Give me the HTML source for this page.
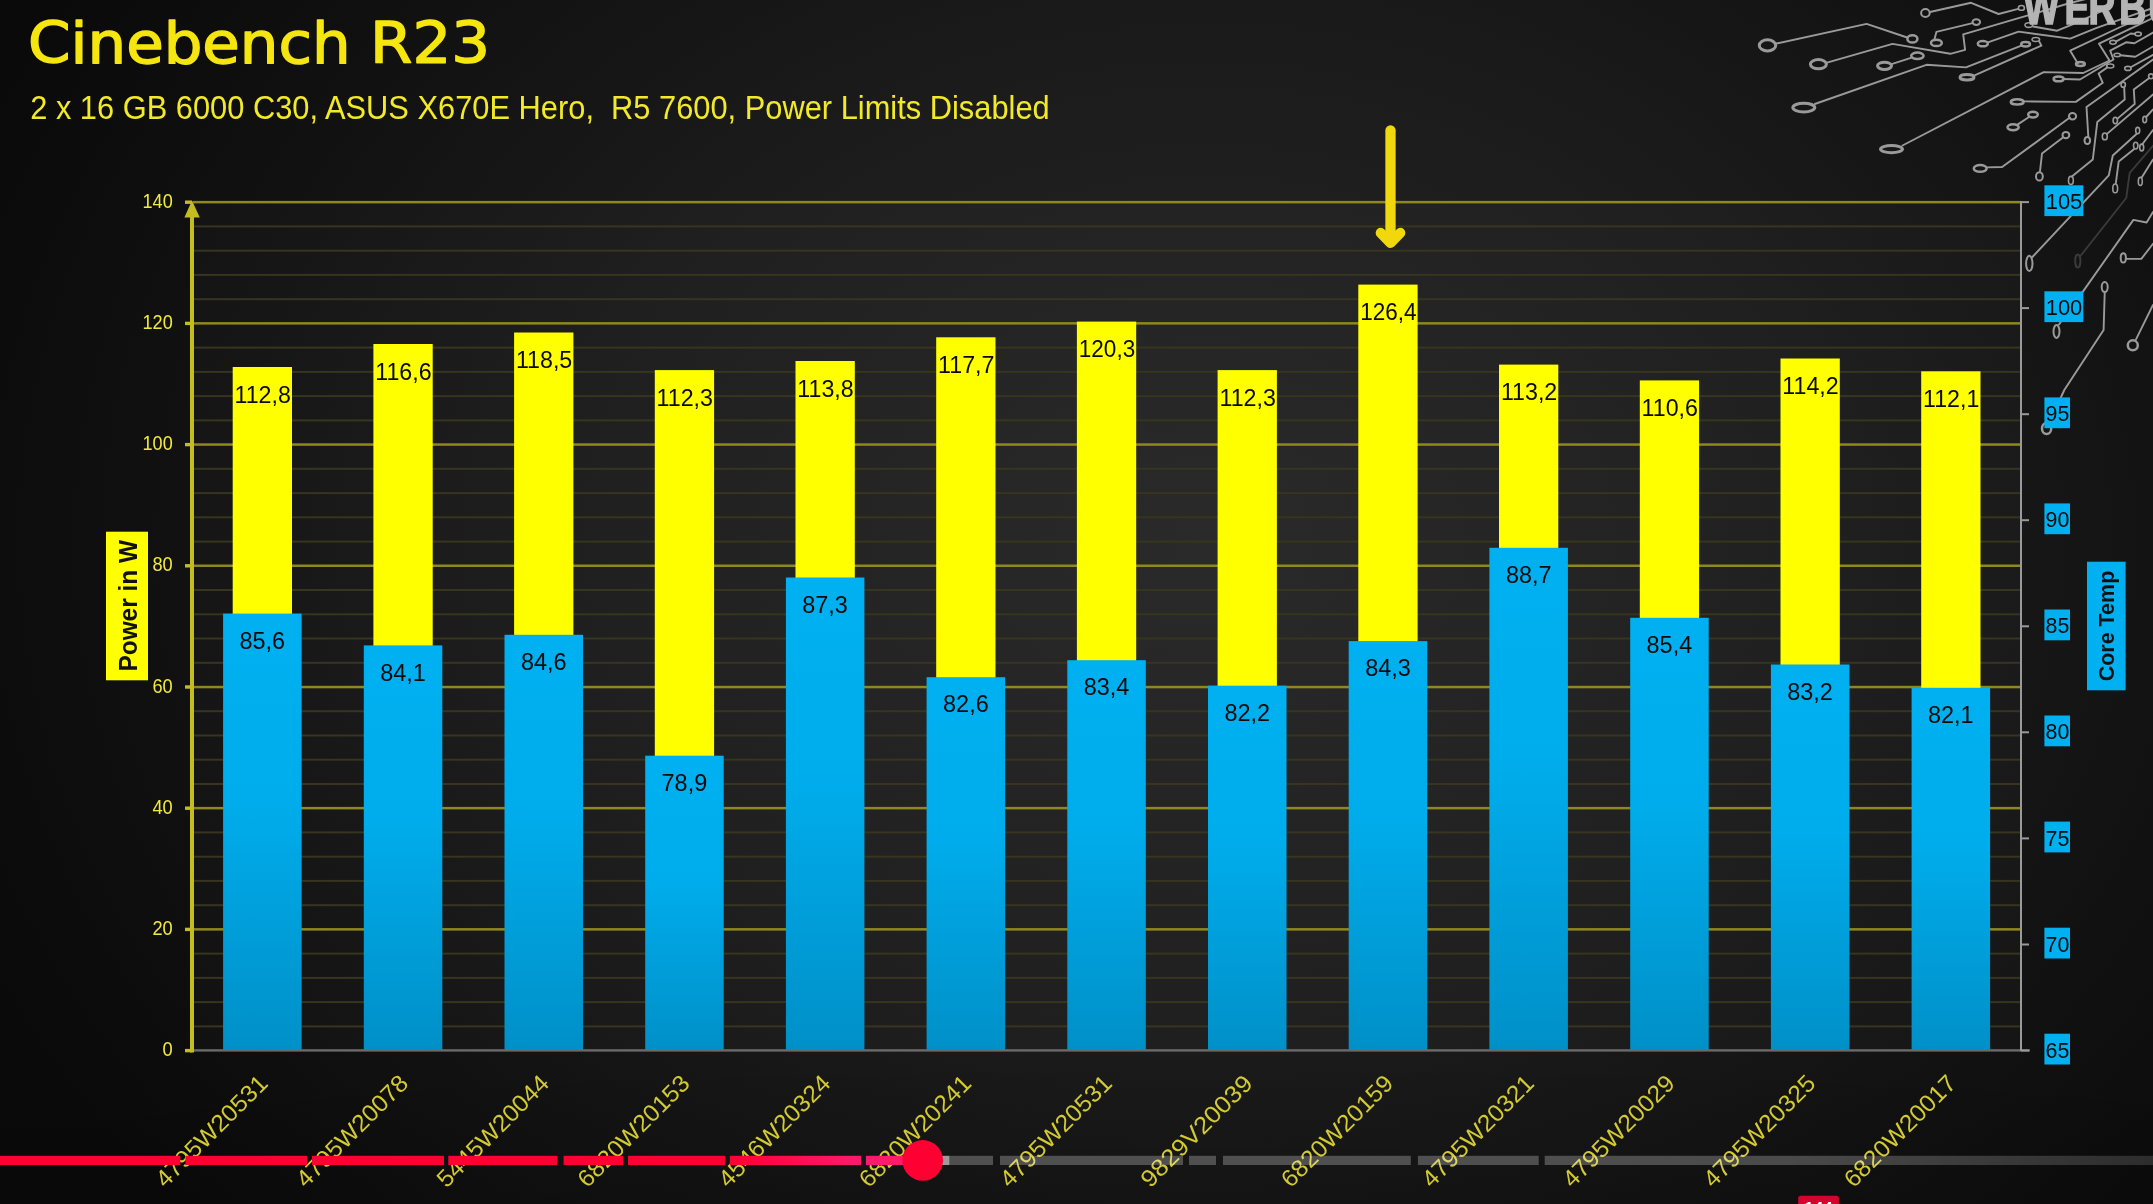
<!DOCTYPE html>
<html lang="de"><head><meta charset="utf-8"><title>Cinebench R23</title>
<style>
html,body{margin:0;padding:0;background:#0b0b0b;overflow:hidden}
body{width:2153px;height:1204px;position:relative;font-family:"Liberation Sans",sans-serif}
svg{display:block;position:absolute;left:0;top:0;will-change:transform}
text{font-family:"Liberation Sans",sans-serif}
.t{font-family:"DejaVu Sans","Liberation Sans",sans-serif}
</style></head><body>
<svg width="2153" height="1204" viewBox="0 0 2153 1204">
<defs>
<radialGradient id="bg" cx="0.56" cy="0.45" r="0.62" gradientTransform="translate(0.56 0.45) scale(1 1.4) translate(-0.56 -0.45)">
<stop offset="0" stop-color="#262626"/><stop offset="0.45" stop-color="#1c1c1c"/><stop offset="0.8" stop-color="#101010"/><stop offset="1" stop-color="#0a0a0a"/></radialGradient>
<linearGradient id="bl" x1="0" y1="0" x2="0" y2="1"><stop offset="0" stop-color="#00b0f0"/><stop offset="0.42" stop-color="#00adec"/><stop offset="1" stop-color="#0090c8"/></linearGradient>
<linearGradient id="bot" x1="0" y1="0" x2="0" y2="1"><stop offset="0" stop-color="#000" stop-opacity="0"/><stop offset="1" stop-color="#000" stop-opacity="0.1"/></linearGradient>
<linearGradient id="pk" x1="0" y1="0" x2="1" y2="0"><stop offset="0" stop-color="#ff0033"/><stop offset="1" stop-color="#ff1a6e"/></linearGradient>
<linearGradient id="gr" x1="0" y1="0" x2="1" y2="0"><stop offset="0" stop-color="#fff" stop-opacity="0.25"/><stop offset="0.4" stop-color="#fff" stop-opacity="0.24"/><stop offset="1" stop-color="#fff" stop-opacity="0.14"/></linearGradient>
</defs>
<rect width="2153" height="1204" fill="url(#bg)"/>
<g id="circuit" fill="none" stroke="#9a9a9a" stroke-width="1.9" stroke-linejoin="round" stroke-linecap="round">
<path d="M1930.0 12.0 L1971.1 2.8 L1998.6 14.0 L2018.3 8.8"/>
<ellipse cx="1925.4" cy="13.0" rx="4.3" ry="4.0" stroke-width="2.0"/>
<ellipse cx="2021.4" cy="7.9" rx="3.0" ry="2.4" stroke-width="1.6"/>
<path d="M1776.5 43.5 L1866.6 23.9 L1907.2 37.5"/>
<ellipse cx="1767.5" cy="45.4" rx="8.2" ry="5.6" stroke-width="3.0"/>
<ellipse cx="1912.4" cy="38.9" rx="5.0" ry="3.6" stroke-width="2.5"/>
<path d="M1827.0 62.6 L1892.5 43.9 L1950.3 53.8 L1965.1 49.8 L1963.2 34.4 L2023.7 16.7 L2070.0 3.0 L2090.0 -2.0"/>
<ellipse cx="1818.4" cy="64.2" rx="8.0" ry="4.6" stroke-width="3.0"/>
<path d="M1891.5 64.2 L1911.0 57.8"/>
<ellipse cx="1884.5" cy="65.8" rx="7.0" ry="3.6" stroke-width="3.0"/>
<ellipse cx="1917.4" cy="55.8" rx="6.2" ry="3.2" stroke-width="2.5"/>
<path d="M1814.8 104.0 L1926.4 64.8 L1966.0 67.4 L2021.4 45.6"/>
<ellipse cx="1803.8" cy="107.6" rx="11.0" ry="4.4" stroke-width="3.0"/>
<ellipse cx="2025.6" cy="44.2" rx="4.4" ry="2.2" stroke-width="2.5"/>
<path d="M1934.4 39.6 L1936.4 31.9 L1972.5 23.1"/>
<ellipse cx="1936.4" cy="42.9" rx="5.4" ry="3.2" stroke-width="2.5"/>
<ellipse cx="1976.3" cy="22.1" rx="3.8" ry="2.8" stroke-width="2.0"/>
<path d="M1987.9 42.3 L2018.6 31.6 L2070.2 38.6 L2096.7 27.9 L2153.0 8.0"/>
<ellipse cx="1982.8" cy="43.7" rx="5.0" ry="2.6" stroke-width="2.5"/>
<path d="M1974.0 75.6 L2041.4 45.6 L2039.3 41.6"/>
<ellipse cx="1967.0" cy="77.2" rx="7.0" ry="2.8" stroke-width="3.0"/>
<ellipse cx="2035.8" cy="39.5" rx="3.8" ry="2.0" stroke-width="1.6"/>
<path d="M2033.0 26.5 L2057.2 30.7 L2072.0 24.6 L2100.0 12.0"/>
<ellipse cx="2028.8" cy="25.1" rx="3.8" ry="2.3" stroke-width="1.6"/>
<path d="M1902.5 145.5 L2043.7 72.1 L2083.2 73.0 L2109.5 60.5 L2099.0 43.7 L2143.7 22.3 L2153.0 18.0"/>
<ellipse cx="1891.5" cy="149.1" rx="11.0" ry="3.6" stroke-width="3.0"/>
<path d="M2077.7 63.3 L2070.2 50.7 L2120.4 27.0 L2153.0 13.0"/>
<ellipse cx="2080.4" cy="64.0" rx="4.4" ry="2.0" stroke-width="2.5"/>
<path d="M2063.5 79.0 L2080.0 79.5 L2113.5 59.5 L2110.2 50.7 L2126.0 42.3 L2134.4 43.3 L2153.0 32.6"/>
<ellipse cx="2058.6" cy="78.9" rx="5.0" ry="2.4" stroke-width="2.5"/>
<path d="M2116.3 41.4 L2130.7 33.5 L2135.0 34.0"/>
<ellipse cx="2113.0" cy="42.3" rx="3.2" ry="1.9" stroke-width="1.6"/>
<ellipse cx="2138.1" cy="34.0" rx="3.2" ry="1.9" stroke-width="1.6"/>
<path d="M2120.4 55.3 L2135.3 56.7 L2153.0 46.5"/>
<ellipse cx="2117.2" cy="54.9" rx="3.2" ry="1.7" stroke-width="1.6"/>
<path d="M2023.7 101.4 L2075.8 101.9 L2102.8 82.8 L2098.6 73.5 L2107.4 67.4"/>
<ellipse cx="2017.2" cy="101.9" rx="6.4" ry="2.6" stroke-width="2.5"/>
<ellipse cx="2110.2" cy="66.0" rx="3.6" ry="2.0" stroke-width="1.6"/>
<path d="M2017.5 124.6 L2029.0 117.0"/>
<ellipse cx="2013.1" cy="127.2" rx="5.6" ry="3.0" stroke-width="2.5"/>
<ellipse cx="2033.0" cy="114.6" rx="4.8" ry="2.8" stroke-width="2.5"/>
<path d="M1987.2 167.4 L2002.1 167.0 L2069.9 117.6"/>
<ellipse cx="1980.2" cy="168.4" rx="6.4" ry="3.4" stroke-width="2.5"/>
<ellipse cx="2072.5" cy="116.2" rx="3.6" ry="3.2" stroke-width="2.0"/>
<path d="M2040.0 171.4 L2042.0 153.5 L2062.9 137.5"/>
<ellipse cx="2039.4" cy="176.4" rx="3.4" ry="4.2" stroke-width="2.0"/>
<ellipse cx="2065.9" cy="135.1" rx="3.4" ry="3.2" stroke-width="2.0"/>
<path d="M2071.9 176.4 L2092.8 159.5 L2097.3 121.9 L2124.7 99.5 L2124.2 87.4"/>
<ellipse cx="2070.9" cy="180.4" rx="2.4" ry="4.0" stroke-width="1.6"/>
<ellipse cx="2123.2" cy="84.7" rx="2.2" ry="2.6" stroke-width="1.6"/>
<path d="M2088.3 136.5 L2086.5 107.0 L2153.0 59.5"/>
<ellipse cx="2087.3" cy="140.5" rx="2.8" ry="3.6" stroke-width="2.0"/>
<path d="M2107.0 133.9 L2153.0 94.5"/>
<ellipse cx="2104.8" cy="136.4" rx="2.5" ry="3.4" stroke-width="1.6"/>
<path d="M2117.5 118.6 L2134.7 104.0 L2133.8 89.5 L2149.3 78.1"/>
<ellipse cx="2115.3" cy="120.6" rx="2.2" ry="3.2" stroke-width="1.6"/>
<ellipse cx="2151.0" cy="76.3" rx="2.4" ry="2.4" stroke-width="1.6"/>
<path d="M2131.1 67.0 L2153.0 54.9"/>
<ellipse cx="2127.9" cy="68.4" rx="3.2" ry="2.0" stroke-width="1.6"/>
<path d="M2115.8 183.4 L2118.7 161.5 L2134.2 149.0"/>
<ellipse cx="2115.2" cy="188.4" rx="2.4" ry="4.4" stroke-width="1.6"/>
<ellipse cx="2135.7" cy="145.6" rx="2.2" ry="3.4" stroke-width="1.6"/>
<path d="M2141.7 177.4 L2153.0 159.5"/>
<ellipse cx="2140.3" cy="181.4" rx="2.0" ry="4.0" stroke-width="1.6"/>
<path d="M2136.5 134.0 L2112.8 155.5 L2108.8 175.4 L2032.4 257.0"/>
<ellipse cx="2137.7" cy="130.6" rx="2.0" ry="3.2" stroke-width="1.6"/>
<ellipse cx="2029.3" cy="263.4" rx="3.2" ry="7.6" stroke-width="2.0"/>
<path d="M2146.2 117.0 L2153.0 109.4"/>
<ellipse cx="2144.7" cy="119.6" rx="1.9" ry="3.2" stroke-width="1.6"/>
<path d="M2142.5 144.0 L2153.0 130.0"/>
<ellipse cx="2141.7" cy="147.5" rx="2.0" ry="3.4" stroke-width="1.6"/>
<path d="M2153.0 145.8 L2129.7 172.8 L2126.2 198.0 L2080.4 256.0" stroke="#3a3a3a"/>
<ellipse cx="2077.8" cy="261.0" rx="2.6" ry="6.6" stroke-width="2.0" stroke="#3a3a3a"/>
<path d="M2153.0 212.0 L2146.6 222.5 L2133.4 219.9 L2082.9 291.6 L2059.0 324.5"/>
<ellipse cx="2056.5" cy="331.5" rx="3.0" ry="6.4" stroke-width="2.0"/>
<path d="M2126.7 258.9 L2141.3 258.9 L2153.0 243.8"/>
<ellipse cx="2123.3" cy="257.9" rx="2.6" ry="4.6" stroke-width="2.0"/>
<path d="M2104.7 293.0 L2103.6 330.1 L2064.3 390.0 L2050.5 420.0"/>
<ellipse cx="2104.7" cy="287.1" rx="3.0" ry="5.0" stroke-width="2.0"/>
<ellipse cx="2046.6" cy="428.5" rx="4.6" ry="5.6" stroke-width="2.5"/>
<path d="M2136.0 339.4 L2153.0 304.9"/>
<ellipse cx="2132.8" cy="345.3" rx="5.0" ry="5.0" stroke-width="2.5"/>
</g>
<rect x="0" y="1040" width="2153" height="164" fill="url(#bot)"/>
<rect x="192" y="202" width="1829" height="849" fill="#fff" fill-opacity="0.018"/>
<g id="grid">
<rect x="193" y="1025.4" width="1828" height="2" fill="#37351f"/>
<rect x="193" y="1001.1" width="1828" height="2" fill="#37351f"/>
<rect x="193" y="976.9" width="1828" height="2" fill="#37351f"/>
<rect x="193" y="952.6" width="1828" height="2" fill="#37351f"/>
<rect x="193" y="928.1" width="1828" height="2.5" fill="#8f881e"/>
<rect x="193" y="904.2" width="1828" height="2" fill="#37351f"/>
<rect x="193" y="879.9" width="1828" height="2" fill="#37351f"/>
<rect x="193" y="855.7" width="1828" height="2" fill="#37351f"/>
<rect x="193" y="831.4" width="1828" height="2" fill="#37351f"/>
<rect x="193" y="806.9" width="1828" height="2.5" fill="#8f881e"/>
<rect x="193" y="783.0" width="1828" height="2" fill="#37351f"/>
<rect x="193" y="758.7" width="1828" height="2" fill="#37351f"/>
<rect x="193" y="734.5" width="1828" height="2" fill="#37351f"/>
<rect x="193" y="710.2" width="1828" height="2" fill="#37351f"/>
<rect x="193" y="685.8" width="1828" height="2.5" fill="#8f881e"/>
<rect x="193" y="661.8" width="1828" height="2" fill="#37351f"/>
<rect x="193" y="637.5" width="1828" height="2" fill="#37351f"/>
<rect x="193" y="613.3" width="1828" height="2" fill="#37351f"/>
<rect x="193" y="589.0" width="1828" height="2" fill="#37351f"/>
<rect x="193" y="564.5" width="1828" height="2.5" fill="#8f881e"/>
<rect x="193" y="540.6" width="1828" height="2" fill="#37351f"/>
<rect x="193" y="516.3" width="1828" height="2" fill="#37351f"/>
<rect x="193" y="492.1" width="1828" height="2" fill="#37351f"/>
<rect x="193" y="467.8" width="1828" height="2" fill="#37351f"/>
<rect x="193" y="443.3" width="1828" height="2.5" fill="#8f881e"/>
<rect x="193" y="419.4" width="1828" height="2" fill="#37351f"/>
<rect x="193" y="395.1" width="1828" height="2" fill="#37351f"/>
<rect x="193" y="370.9" width="1828" height="2" fill="#37351f"/>
<rect x="193" y="346.6" width="1828" height="2" fill="#37351f"/>
<rect x="193" y="322.1" width="1828" height="2.5" fill="#8f881e"/>
<rect x="193" y="298.2" width="1828" height="2" fill="#37351f"/>
<rect x="193" y="273.9" width="1828" height="2" fill="#37351f"/>
<rect x="193" y="249.7" width="1828" height="2" fill="#37351f"/>
<rect x="193" y="225.4" width="1828" height="2" fill="#37351f"/>
<rect x="193" y="200.9" width="1828" height="2.5" fill="#8f881e"/>
</g>
<g id="bars">
<rect x="232.7" y="367.0" width="59.3" height="683.6" fill="#ffff00"/>
<rect x="223.1" y="613.6" width="78.5" height="437.0" fill="url(#bl)"/>
<rect x="373.4" y="344.0" width="59.3" height="706.6" fill="#ffff00"/>
<rect x="363.8" y="645.4" width="78.5" height="405.2" fill="url(#bl)"/>
<rect x="514.1" y="332.5" width="59.3" height="718.1" fill="#ffff00"/>
<rect x="504.5" y="634.8" width="78.5" height="415.8" fill="url(#bl)"/>
<rect x="654.8" y="370.1" width="59.3" height="680.5" fill="#ffff00"/>
<rect x="645.2" y="755.7" width="78.5" height="294.9" fill="url(#bl)"/>
<rect x="795.5" y="361.0" width="59.3" height="689.6" fill="#ffff00"/>
<rect x="785.9" y="577.5" width="78.5" height="473.1" fill="url(#bl)"/>
<rect x="936.2" y="337.3" width="59.3" height="713.3" fill="#ffff00"/>
<rect x="926.6" y="677.2" width="78.5" height="373.4" fill="url(#bl)"/>
<rect x="1076.9" y="321.6" width="59.3" height="729.0" fill="#ffff00"/>
<rect x="1067.3" y="660.2" width="78.5" height="390.4" fill="url(#bl)"/>
<rect x="1217.6" y="370.1" width="59.3" height="680.5" fill="#ffff00"/>
<rect x="1208.0" y="685.7" width="78.5" height="364.9" fill="url(#bl)"/>
<rect x="1358.3" y="284.6" width="59.3" height="766.0" fill="#ffff00"/>
<rect x="1348.7" y="641.1" width="78.5" height="409.5" fill="url(#bl)"/>
<rect x="1499.0" y="364.6" width="59.3" height="686.0" fill="#ffff00"/>
<rect x="1489.4" y="547.8" width="78.5" height="502.8" fill="url(#bl)"/>
<rect x="1639.8" y="380.4" width="59.3" height="670.2" fill="#ffff00"/>
<rect x="1630.2" y="617.8" width="78.5" height="432.8" fill="url(#bl)"/>
<rect x="1780.5" y="358.5" width="59.3" height="692.1" fill="#ffff00"/>
<rect x="1770.9" y="664.5" width="78.5" height="386.1" fill="url(#bl)"/>
<rect x="1921.2" y="371.3" width="59.3" height="679.3" fill="#ffff00"/>
<rect x="1911.6" y="687.8" width="78.5" height="362.8" fill="url(#bl)"/>
</g>
<g id="axes">
<rect x="192" y="1049.2" width="1838" height="2.4" fill="#6a6a6a"/>
<rect x="2020" y="201" width="2" height="850" fill="#9a9a9a"/>
<rect x="2021" y="1049.5" width="8" height="2" fill="#9a9a9a"/>
<rect x="2021" y="943.5" width="8" height="2" fill="#9a9a9a"/>
<rect x="2021" y="837.4" width="8" height="2" fill="#9a9a9a"/>
<rect x="2021" y="731.3" width="8" height="2" fill="#9a9a9a"/>
<rect x="2021" y="625.3" width="8" height="2" fill="#9a9a9a"/>
<rect x="2021" y="519.2" width="8" height="2" fill="#9a9a9a"/>
<rect x="2021" y="413.2" width="8" height="2" fill="#9a9a9a"/>
<rect x="2021" y="307.1" width="8" height="2" fill="#9a9a9a"/>
<rect x="2021" y="201.1" width="8" height="2" fill="#9a9a9a"/>
<rect x="190" y="210" width="4" height="842.5" fill="#c4bd22"/>
<path d="M192 200.5 L199.8 217.5 L184.4 217.5 Z" fill="#c4bd22"/>
<rect x="185" y="1048.9" width="7" height="3.4" fill="#c4bd22"/>
<rect x="185" y="927.7" width="7" height="3.4" fill="#c4bd22"/>
<rect x="185" y="806.5" width="7" height="3.4" fill="#c4bd22"/>
<rect x="185" y="685.3" width="7" height="3.4" fill="#c4bd22"/>
<rect x="185" y="564.1" width="7" height="3.4" fill="#c4bd22"/>
<rect x="185" y="442.9" width="7" height="3.4" fill="#c4bd22"/>
<rect x="185" y="321.7" width="7" height="3.4" fill="#c4bd22"/>
<rect x="185" y="200.5" width="7" height="3.4" fill="#c4bd22"/>
</g>
<g id="ltick" fill="#f2ea3a" font-size="19.6" text-anchor="end">
<text x="172.7" y="1056.1" textLength="10.2" lengthAdjust="spacingAndGlyphs">0</text>
<text x="172.7" y="934.9" textLength="20.3" lengthAdjust="spacingAndGlyphs">20</text>
<text x="172.7" y="813.7" textLength="20.3" lengthAdjust="spacingAndGlyphs">40</text>
<text x="172.7" y="692.5" textLength="20.3" lengthAdjust="spacingAndGlyphs">60</text>
<text x="172.7" y="571.3" textLength="20.3" lengthAdjust="spacingAndGlyphs">80</text>
<text x="172.7" y="450.1" textLength="30.2" lengthAdjust="spacingAndGlyphs">100</text>
<text x="172.7" y="328.9" textLength="30.2" lengthAdjust="spacingAndGlyphs">120</text>
<text x="172.7" y="207.7" textLength="30.2" lengthAdjust="spacingAndGlyphs">140</text>
</g>
<g id="rtick" font-size="22.3" text-anchor="middle">
<rect x="2044.4" y="1033.7" width="25.6" height="30.8" fill="#00b0f0"/>
<text x="2057.4" y="1057.6" fill="#0a0a0a" textLength="23.8" lengthAdjust="spacingAndGlyphs">65</text>
<rect x="2044.4" y="927.7" width="25.6" height="30.8" fill="#00b0f0"/>
<text x="2057.4" y="951.6" fill="#0a0a0a" textLength="23.8" lengthAdjust="spacingAndGlyphs">70</text>
<rect x="2044.4" y="821.6" width="25.6" height="30.8" fill="#00b0f0"/>
<text x="2057.4" y="845.5" fill="#0a0a0a" textLength="23.8" lengthAdjust="spacingAndGlyphs">75</text>
<rect x="2044.4" y="715.5" width="25.6" height="30.8" fill="#00b0f0"/>
<text x="2057.4" y="739.4" fill="#0a0a0a" textLength="23.8" lengthAdjust="spacingAndGlyphs">80</text>
<rect x="2044.4" y="609.5" width="25.6" height="30.8" fill="#00b0f0"/>
<text x="2057.4" y="633.4" fill="#0a0a0a" textLength="23.8" lengthAdjust="spacingAndGlyphs">85</text>
<rect x="2044.4" y="503.4" width="25.6" height="30.8" fill="#00b0f0"/>
<text x="2057.4" y="527.4" fill="#0a0a0a" textLength="23.8" lengthAdjust="spacingAndGlyphs">90</text>
<rect x="2044.4" y="397.4" width="25.6" height="30.8" fill="#00b0f0"/>
<text x="2057.4" y="421.3" fill="#0a0a0a" textLength="23.8" lengthAdjust="spacingAndGlyphs">95</text>
<rect x="2044.4" y="291.3" width="38.9" height="30.8" fill="#00b0f0"/>
<text x="2064.0" y="315.2" fill="#0a0a0a" textLength="36.6" lengthAdjust="spacingAndGlyphs">100</text>
<rect x="2044.4" y="185.3" width="38.9" height="30.8" fill="#00b0f0"/>
<text x="2064.0" y="209.2" fill="#0a0a0a" textLength="36.6" lengthAdjust="spacingAndGlyphs">105</text>
</g>
<g id="dl" font-size="23.3" text-anchor="middle" fill="#0a0a0a">
<text x="262.7" y="402.8" textLength="56.4" lengthAdjust="spacingAndGlyphs">112,8</text>
<text x="262.3" y="648.7" textLength="45.6" lengthAdjust="spacingAndGlyphs">85,6</text>
<text x="403.4" y="379.8" textLength="56.4" lengthAdjust="spacingAndGlyphs">116,6</text>
<text x="403.0" y="680.5" textLength="45.6" lengthAdjust="spacingAndGlyphs">84,1</text>
<text x="544.1" y="368.3" textLength="56.4" lengthAdjust="spacingAndGlyphs">118,5</text>
<text x="543.7" y="669.9" textLength="45.6" lengthAdjust="spacingAndGlyphs">84,6</text>
<text x="684.8" y="405.9" textLength="56.4" lengthAdjust="spacingAndGlyphs">112,3</text>
<text x="684.4" y="790.8" textLength="45.6" lengthAdjust="spacingAndGlyphs">78,9</text>
<text x="825.5" y="396.8" textLength="56.4" lengthAdjust="spacingAndGlyphs">113,8</text>
<text x="825.1" y="612.6" textLength="45.6" lengthAdjust="spacingAndGlyphs">87,3</text>
<text x="966.3" y="373.1" textLength="56.4" lengthAdjust="spacingAndGlyphs">117,7</text>
<text x="965.9" y="712.3" textLength="45.6" lengthAdjust="spacingAndGlyphs">82,6</text>
<text x="1107.0" y="357.4" textLength="56.4" lengthAdjust="spacingAndGlyphs">120,3</text>
<text x="1106.6" y="695.3" textLength="45.6" lengthAdjust="spacingAndGlyphs">83,4</text>
<text x="1247.7" y="405.9" textLength="56.4" lengthAdjust="spacingAndGlyphs">112,3</text>
<text x="1247.3" y="720.8" textLength="45.6" lengthAdjust="spacingAndGlyphs">82,2</text>
<text x="1388.4" y="320.4" textLength="56.4" lengthAdjust="spacingAndGlyphs">126,4</text>
<text x="1388.0" y="676.2" textLength="45.6" lengthAdjust="spacingAndGlyphs">84,3</text>
<text x="1529.1" y="400.4" textLength="56.4" lengthAdjust="spacingAndGlyphs">113,2</text>
<text x="1528.7" y="582.9" textLength="45.6" lengthAdjust="spacingAndGlyphs">88,7</text>
<text x="1669.8" y="416.2" textLength="56.4" lengthAdjust="spacingAndGlyphs">110,6</text>
<text x="1669.4" y="652.9" textLength="45.6" lengthAdjust="spacingAndGlyphs">85,4</text>
<text x="1810.5" y="394.3" textLength="56.4" lengthAdjust="spacingAndGlyphs">114,2</text>
<text x="1810.1" y="699.6" textLength="45.6" lengthAdjust="spacingAndGlyphs">83,2</text>
<text x="1951.2" y="407.1" textLength="56.4" lengthAdjust="spacingAndGlyphs">112,1</text>
<text x="1950.8" y="722.9" textLength="45.6" lengthAdjust="spacingAndGlyphs">82,1</text>
</g>
<g id="xl" font-size="23.9" text-anchor="end" fill="#d3ca32">
<text transform="translate(269.1 1084.8) rotate(-45)" textLength="147" lengthAdjust="spacingAndGlyphs">4795W20531</text>
<text transform="translate(409.8 1084.8) rotate(-45)" textLength="147" lengthAdjust="spacingAndGlyphs">4795W20078</text>
<text transform="translate(550.5 1084.8) rotate(-45)" textLength="147" lengthAdjust="spacingAndGlyphs">5445W20044</text>
<text transform="translate(691.2 1084.8) rotate(-45)" textLength="147" lengthAdjust="spacingAndGlyphs">6820W20153</text>
<text transform="translate(831.9 1084.8) rotate(-45)" textLength="147" lengthAdjust="spacingAndGlyphs">4546W20324</text>
<text transform="translate(972.7 1084.8) rotate(-45)" textLength="147" lengthAdjust="spacingAndGlyphs">6820W20241</text>
<text transform="translate(1113.4 1084.8) rotate(-45)" textLength="147" lengthAdjust="spacingAndGlyphs">4795W20531</text>
<text transform="translate(1254.1 1084.8) rotate(-45)" textLength="147" lengthAdjust="spacingAndGlyphs">9829V20039</text>
<text transform="translate(1394.8 1084.8) rotate(-45)" textLength="147" lengthAdjust="spacingAndGlyphs">6820W20159</text>
<text transform="translate(1535.5 1084.8) rotate(-45)" textLength="147" lengthAdjust="spacingAndGlyphs">4795W20321</text>
<text transform="translate(1676.2 1084.8) rotate(-45)" textLength="147" lengthAdjust="spacingAndGlyphs">4795W20029</text>
<text transform="translate(1816.9 1084.8) rotate(-45)" textLength="147" lengthAdjust="spacingAndGlyphs">4795W20325</text>
<text transform="translate(1957.6 1084.8) rotate(-45)" textLength="147" lengthAdjust="spacingAndGlyphs">6820W20017</text>
</g>
<rect x="106" y="531.7" width="42" height="148.6" fill="#ffff00"/>
<text transform="translate(137.3 605.8) rotate(-90)" text-anchor="middle" font-size="25.6" font-weight="bold" fill="#111" textLength="131.5" lengthAdjust="spacingAndGlyphs">Power in W</text>
<rect x="2087" y="561.7" width="38.6" height="128.6" fill="#00b0f0"/>
<text transform="translate(2114.2 626) rotate(-90)" text-anchor="middle" font-size="22.4" font-weight="bold" fill="#111" textLength="110.5" lengthAdjust="spacingAndGlyphs">Core Temp</text>
<text class="t" x="28" y="62.9" font-size="57.2" fill="#f5e60f" stroke="#f5e60f" stroke-width="1.4" stroke-linejoin="round" textLength="462" lengthAdjust="spacingAndGlyphs">Cinebench R23</text>
<text x="30.2" y="118.7" font-size="32.8" fill="#f2ea28" textLength="1019.5" lengthAdjust="spacingAndGlyphs" xml:space="preserve">2 x 16 GB 6000 C30, ASUS X670E Hero,  R5 7600, Power Limits Disabled</text>
<g fill="none" stroke="#f0d80c" stroke-width="10.3" stroke-linecap="round" stroke-linejoin="round"><path d="M1390.5 130.5 V241"/><path d="M1380.8 233 L1390.5 242.8 L1400.2 233"/></g>
<g transform="translate(0 23.7) scale(0.78 1)"><text x="2594.5 2646.7 2677.6 2716.9 2754.2 2796.2 2834.6" y="0" font-size="48" font-weight="bold" fill="#b4b4b4" stroke="#b4b4b4" stroke-width="1.7">WERBUNG</text></g>
<g id="pb">
<rect x="0.0" y="1155.8" width="180.3" height="9.2" fill="#ff0033"/>
<rect x="185.5" y="1155.8" width="121.5" height="9.2" fill="#ff0033"/>
<rect x="312.0" y="1155.8" width="132.0" height="9.2" fill="#ff0033"/>
<rect x="448.3" y="1155.8" width="108.7" height="9.2" fill="#ff0033"/>
<rect x="563.6" y="1155.8" width="59.4" height="9.2" fill="#ff0033"/>
<rect x="628.0" y="1155.8" width="97.0" height="9.2" fill="#ff0033"/>
<rect x="729.8" y="1155.8" width="131.2" height="9.2" fill="url(#pk)"/>
<rect x="865.9" y="1155.8" width="59.1" height="9.2" fill="#ff1a6e"/>
<rect x="925.0" y="1155.8" width="24.4" height="9.2" fill="rgba(255,255,255,0.58)"/>
<rect x="949.4" y="1155.8" width="43.6" height="9.2" fill="rgba(255,255,255,0.25)"/>
<rect x="1000.0" y="1155.8" width="183.0" height="9.2" fill="rgba(255,255,255,0.25)"/>
<rect x="1189.0" y="1155.8" width="27.0" height="9.2" fill="rgba(255,255,255,0.25)"/>
<rect x="1223.0" y="1155.8" width="187.8" height="9.2" fill="rgba(255,255,255,0.25)"/>
<rect x="1417.9" y="1155.8" width="120.8" height="9.2" fill="rgba(255,255,255,0.25)"/>
<rect x="1544.7" y="1155.8" width="608.3" height="9.2" fill="url(#gr)"/>
<circle cx="922.7" cy="1160.4" r="20.3" fill="#ff0033"/>
</g>
<rect x="1798.2" y="1195.8" width="40.7" height="12" rx="2.5" fill="#d4042f"/>
<text x="1818.5" y="1214" font-size="17" font-weight="bold" fill="#fff" text-anchor="middle">144</text>
</svg>
</body></html>
